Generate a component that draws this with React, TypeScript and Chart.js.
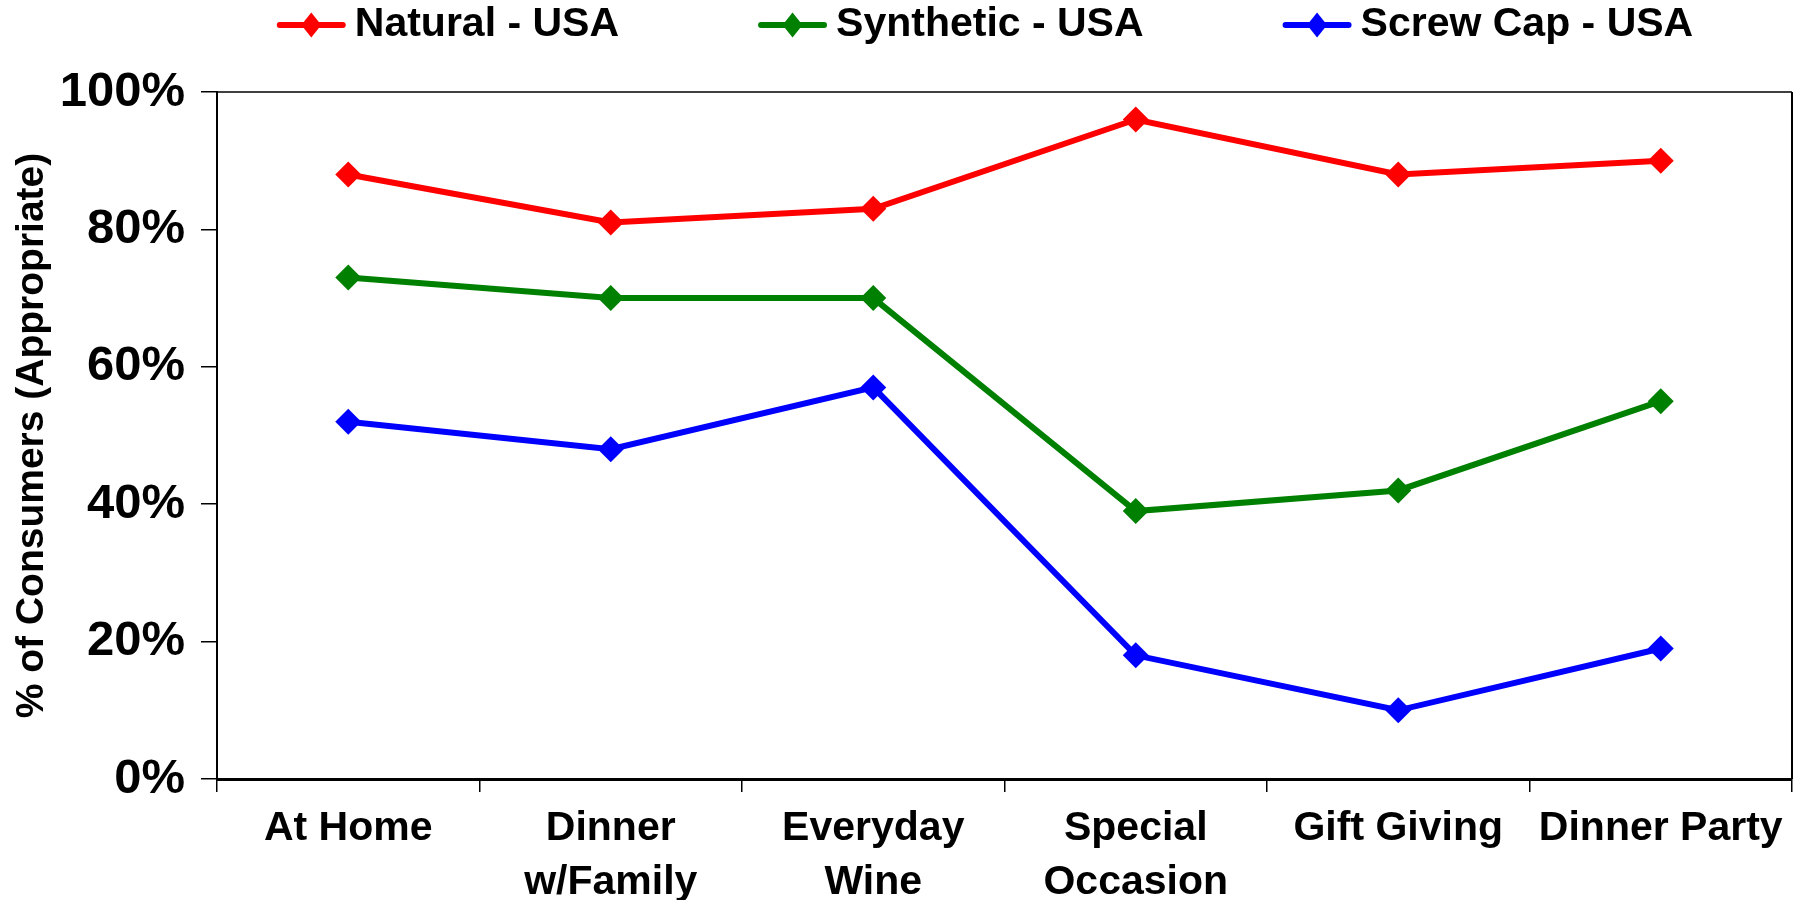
import React, { useEffect, useRef } from 'react';
import { Chart, registerables } from 'chart.js';

Chart.register(...registerables);

// ---- data ----
const categories: string[][] = [
  ['At Home'],
  ['Dinner', 'w/Family'],
  ['Everyday', 'Wine'],
  ['Special', 'Occasion'],
  ['Gift Giving'],
  ['Dinner Party'],
];
const seriesNames = ['Natural - USA', 'Synthetic - USA', 'Screw Cap - USA'];
const naturalUSA = [88, 81, 83, 96, 88, 90];
const syntheticUSA = [73, 70, 70, 39, 42, 55];
const screwCapUSA = [52, 48, 57, 18, 10, 19];
const seriesColors = ['#FF0000', '#008000', '#0000FF'];
const yMin = 0;
const yMax = 100;
const yStep = 20;
const yTitle = '% of Consumers (Appropriate)';

const FONT = '"Liberation Sans", Arial, Helvetica, sans-serif';

// layout
const CANVAS_W = 1805;
const CANVAS_H = 909;
const Y_AXIS_W = 217;
const X_AXIS_H = 130;

// legend layout
const LEGEND_CX = 985;
const LEGEND_CY = 25;
const MARK_W = 69;
const TEXT_GAP = 9;
const ITEM_GAP = 139;

const legendPlugin = {
  id: 'customLegend',
  afterDraw(chart: any) {
    const ctx = chart.ctx as CanvasRenderingContext2D;
    ctx.save();
    ctx.font = `bold 41px ${FONT}`;
    const items = chart.data.datasets.map((ds: any) => ({
      label: ds.label as string,
      color: ds.borderColor as string,
      w: ctx.measureText(ds.label).width,
    }));
    const total =
      items.reduce((s: number, it: any) => s + MARK_W + TEXT_GAP + it.w, 0) +
      ITEM_GAP * (items.length - 1);
    let x = LEGEND_CX - total / 2;
    const y = LEGEND_CY;
    items.forEach((it: any) => {
      ctx.strokeStyle = it.color;
      ctx.lineWidth = 6;
      ctx.lineCap = 'round';
      ctx.beginPath();
      ctx.moveTo(x + 3, y);
      ctx.lineTo(x + MARK_W - 3, y);
      ctx.stroke();
      const cx = x + MARK_W / 2;
      ctx.fillStyle = it.color;
      ctx.beginPath();
      ctx.moveTo(cx, y - 12.5);
      ctx.lineTo(cx + 10, y);
      ctx.lineTo(cx, y + 12.5);
      ctx.lineTo(cx - 10, y);
      ctx.closePath();
      ctx.fill();
      ctx.fillStyle = '#000';
      ctx.textAlign = 'left';
      ctx.textBaseline = 'middle';
      ctx.fillText(it.label, x + MARK_W + TEXT_GAP, y);
      x += MARK_W + TEXT_GAP + it.w + ITEM_GAP;
    });
    ctx.restore();
  },
};

const framePlugin = {
  id: 'frame',
  beforeDatasetsDraw(chart: any) {
    const { ctx, chartArea } = chart;
    ctx.save();
    ctx.strokeStyle = '#000';
    ctx.lineWidth = 1.5;
    ctx.beginPath();
    ctx.moveTo(chartArea.left, chartArea.top);
    ctx.lineTo(chartArea.right, chartArea.top);
    ctx.stroke();
    ctx.lineWidth = 2;
    ctx.beginPath();
    ctx.moveTo(chartArea.right, chartArea.top);
    ctx.lineTo(chartArea.right, chartArea.bottom);
    ctx.stroke();
    ctx.restore();
  },
};

export default function App() {
  const canvasRef = useRef<HTMLCanvasElement | null>(null);

  useEffect(() => {
    if (!canvasRef.current) return;
    const series = [naturalUSA, syntheticUSA, screwCapUSA];
    const chart = new Chart(canvasRef.current, {
      type: 'line',
      data: {
        labels: categories,
        datasets: series.map((values, i) => ({
          label: seriesNames[i],
          data: values,
          borderColor: seriesColors[i],
          backgroundColor: seriesColors[i],
          borderWidth: 6,
          pointStyle: 'rectRot',
          pointRadius: 13,
          pointBorderWidth: 0,
          pointBorderColor: seriesColors[i],
          pointBackgroundColor: seriesColors[i],
          tension: 0,
          fill: false,
        })),
      },
      options: {
        responsive: false,
        animation: false,
        layout: { padding: { top: 92, left: 0, right: 12.5, bottom: 0 } },
        plugins: {
          legend: { display: false },
          tooltip: { enabled: false },
          title: { display: false },
        },
        scales: {
          x: {
            type: 'category',
            offset: true,
            afterFit: (scale: any) => {
              scale.height = X_AXIS_H;
            },
            grid: {
              display: true,
              offset: true,
              drawOnChartArea: false,
              drawTicks: true,
              tickLength: 13,
              color: '#000',
              lineWidth: 1.5,
            },
            border: { display: true, color: '#000', width: 3 },
            ticks: {
              color: '#000',
              padding: 10,
              maxRotation: 0,
              autoSkip: false,
              font: { family: FONT, size: 41, weight: 'bold', lineHeight: 1.317 },
            },
          },
          y: {
            min: yMin,
            max: yMax,
            afterFit: (scale: any) => {
              scale.width = Y_AXIS_W;
            },
            grid: {
              display: true,
              drawOnChartArea: false,
              drawTicks: true,
              tickLength: 16,
              color: '#000',
              lineWidth: 1.5,
            },
            border: { display: true, color: '#000', width: 2 },
            ticks: {
              stepSize: yStep,
              color: '#000',
              padding: 16,
              font: { family: FONT, size: 49, weight: 'bold' },
              callback: (v: any) => `${v}%`,
            },
            title: {
              display: true,
              text: yTitle,
              color: '#000',
              padding: { top: 9, bottom: 4 },
              font: { family: FONT, size: 39, weight: 'bold' },
            },
          },
        },
      },
      plugins: [framePlugin, legendPlugin],
    });
    return () => chart.destroy();
  }, []);

  return (
    <div
      style={{
        position: 'fixed',
        left: 0,
        top: 0,
        width: CANVAS_W,
        height: 900,
        overflow: 'hidden',
        background: '#fff',
      }}
    >
      <canvas ref={canvasRef} width={CANVAS_W} height={CANVAS_H} style={{ display: 'block' }} />
    </div>
  );
}
